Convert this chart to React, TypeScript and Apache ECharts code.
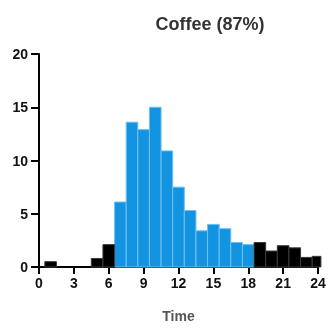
import React, { useEffect, useRef } from "react";
import * as echarts from "echarts";

// Hour of day (bin centre) and number of coffee entries in that bin
const hours = [1, 2, 3, 4, 5, 6, 7, 8, 9, 10, 11, 12, 13, 14, 15, 16, 17, 18, 19, 20, 21, 22, 23, 24];
const counts = [0.5, 0, 0, 0, 0.8, 2.1, 6.1, 13.6, 12.9, 15.0, 10.9, 7.5, 5.3, 3.4, 4.0, 3.6, 2.3, 2.1, 2.3, 1.5, 2.0, 1.8, 0.9, 1.0];
// Bins highlighted in blue (daytime window)
const highlightStart = 7;
const highlightEnd = 18;
const xTicks = [0, 3, 6, 9, 12, 15, 18, 21, 24];
const yTicks = [0, 5, 10, 15, 20];

const BLUE = "#1494e0";
const DARK = "#000000";
const LAST_EDGE = 24.25;

function makeRender(fill: string, stroke: string) {
  return (_params: any, api: any) => {
    const h = api.value(0);
    const v = api.value(1);
    if (!v) return null;
    const x0 = Math.max(h - 0.5, 0);
    const x1 = Math.min(h + 0.5, LAST_EDGE);
    const p0 = api.coord([x0, v]);
    const p1 = api.coord([x1, 0]);
    return {
      type: "rect",
      shape: { x: p0[0], y: p0[1], width: p1[0] - p0[0], height: p1[1] - p0[1] },
      style: { fill, stroke, lineWidth: 1 },
    };
  };
}

export default function App() {
  const ref = useRef<HTMLDivElement>(null);

  useEffect(() => {
    if (!ref.current) return;
    const chart = echarts.init(ref.current, null, { renderer: "svg" });
    const blueData: number[][] = [];
    const darkData: number[][] = [];
    hours.forEach((h, i) => {
      if (h >= highlightStart && h <= highlightEnd) blueData.push([h, counts[i]]);
      else darkData.push([h, counts[i]]);
    });
    const axisLabel = {
      color: "#111",
      fontFamily: "Liberation Sans, Arial, sans-serif",
      fontWeight: "bold" as const,
      fontSize: 14,
    };
    chart.setOption({
      animation: false,
      title: {
        text: "Coffee (87%)",
        left: 205,
        top: 10,
        textAlign: "center",
        textStyle: {
          fontFamily: "Liberation Sans, Arial, sans-serif",
          fontWeight: "bold",
          fontSize: 18,
          color: "#333",
        },
      },
      grid: { left: 39, right: 11, top: 54, bottom: 62 },
      xAxis: {
        type: "value",
        min: 0,
        max: 24,
        interval: 3,
        name: "Time",
        nameLocation: "middle",
        nameGap: 42,
        nameTextStyle: {
          fontFamily: "Liberation Sans, Arial, sans-serif",
          fontWeight: "bold",
          fontSize: 14,
          color: "#555",
        },
        splitLine: { show: false },
        axisLine: { lineStyle: { color: "#000", width: 2 } },
        axisTick: { length: 7, lineStyle: { color: "#000", width: 2 } },
        axisLabel: {
          ...axisLabel,
          margin: 9,
          formatter: (v: number) => (xTicks.includes(v) ? String(v) : ""),
        },
      },
      yAxis: {
        type: "value",
        min: 0,
        max: 20,
        interval: 5,
        splitLine: { show: false },
        axisLine: { show: true, lineStyle: { color: "#000", width: 2 } },
        axisTick: { show: true, length: 8, lineStyle: { color: "#000", width: 2 } },
        axisLabel: {
          ...axisLabel,
          margin: 11,
          formatter: (v: number) => (yTicks.includes(v) ? String(v) : ""),
        },
      },
      series: [
        {
          type: "custom",
          clip: false,
          renderItem: makeRender(BLUE, "#6cc2f4"),
          data: blueData,
          z: 1,
        },
        {
          type: "custom",
          clip: false,
          renderItem: makeRender(DARK, "#3a3a3a"),
          data: darkData,
          z: 1,
        },
      ],
    });
    return () => chart.dispose();
  }, []);

  return (
    <div
      ref={ref}
      style={{ position: "fixed", left: 0, top: 0, width: 329, height: 329 }}
    />
  );
}
